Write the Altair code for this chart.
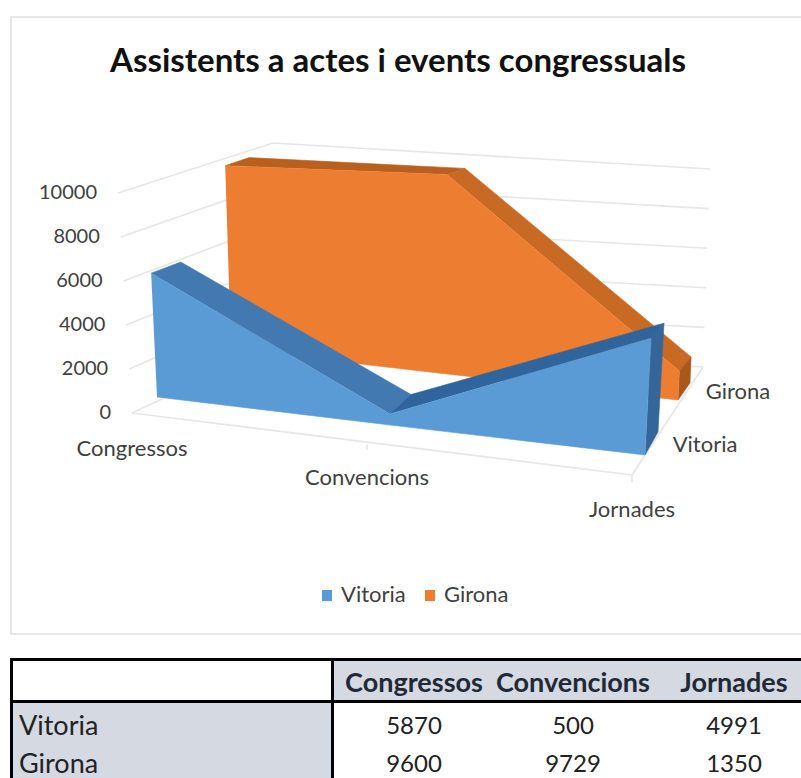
import altair as alt
import pandas as pd

TITLE = "Assistents a actes i events congressuals"
CATEGORIES = ["Congressos", "Convencions", "Jornades"]
VITORIA = [5870, 500, 4991]
GIRONA = [9600, 9729, 1350]
TICKS = [0, 2000, 4000, 6000, 8000, 10000]
FONT = "Lato"

# Perspective frame: for each category, the floor point of a face and the
# screen vector spanned by 10000 units.
FACES = {
    "vitoria_front": ([(157, 397), (390, 425), (645, 455)], [(-10, -211), (0, -222), (12, -234)]),
    "vitoria_back": ([(186, 380), (411, 405), (658, 432)], [(-9, -201), (0, -210), (12, -218)]),
    "girona_front": ([(231, 349), (447, 374), (678, 400)], [(-6, -191), (0, -205), (10, -215)]),
    "girona_back": ([(254, 340), (465, 362), (690, 383)], [(-5, -190), (0, -199), (8, -193)]),
}


def project(face, cat, value):
    base, unit = FACES[face]
    k = value / 10000
    return (base[cat][0] + unit[cat][0] * k, base[cat][1] + unit[cat][1] * k)


def wall_point(a0, a10, value):
    k = value / 10000
    return (a0[0] + (a10[0] - a0[0]) * k, a0[1] + (a10[1] - a0[1]) * k)


X = alt.X("x:Q", scale=alt.Scale(domain=[0, 801], range=[0, 801], nice=False, zero=False), axis=None)
Y = alt.Y("y:Q", scale=alt.Scale(domain=[0, 778], range=[0, 778], nice=False, zero=False), axis=None)


def polygon(points, color):
    df = pd.DataFrame({"x": [p[0] for p in points], "y": [p[1] for p in points], "i": range(len(points))})
    return alt.Chart(df).mark_line(fill=color, stroke=color, strokeWidth=0.6).encode(
        x=X, y=Y, order=alt.Order("i:Q")
    )


def segment(a, b, color="#e6e6e6", width=1.6):
    df = pd.DataFrame({"x": [a[0], b[0]], "y": [a[1], b[1]], "i": [0, 1]})
    return alt.Chart(df).mark_line(stroke=color, strokeWidth=width).encode(x=X, y=Y, order=alt.Order("i:Q"))


def box(x0, x1, y0, y1, color):
    df = pd.DataFrame({"x": [x0], "x2": [x1], "y": [y0], "y2": [y1]})
    return alt.Chart(df).mark_rect(color=color).encode(x=X, x2="x2:Q", y=Y, y2="y2:Q")


def label(text, x, y, size=22, align="center", weight="normal", color="#404040", font=FONT):
    df = pd.DataFrame({"x": [x], "y": [y], "t": [text]})
    return alt.Chart(df).mark_text(
        font=font, fontSize=size, align=align, baseline="middle", fontWeight=weight, color=color
    ).encode(x=X, y=Y, text="t:N")


def front_face(face, values):
    n = len(values)
    top = [project(face, c, values[c]) for c in range(n)]
    floor = [project(face, c, 0) for c in reversed(range(n))]
    return top + floor


def band(front, back, values, c0, c1):
    return [
        project(front, c0, values[c0]), project(back, c0, values[c0]),
        project(back, c1, values[c1]), project(front, c1, values[c1]),
    ]


def end_cap(front, back, values, c):
    return [
        project(front, c, values[c]), project(back, c, values[c]),
        project(back, c, 0), project(front, c, 0),
    ]


layers = []

# Chart frame
layers += [
    box(10, 801, 16, 18, "#e6e6e6"),
    box(10, 12, 16, 635, "#e6e6e6"),
    box(10, 801, 633, 635, "#e6e6e6"),
]

# Walls and floor
LEFT_FRONT = ((132, 413), (118, 193))
LEFT_BACK = ((277, 345), (273, 143))
RIGHT_BACK = ((703, 367), (710, 169))
for t in TICKS:
    a = wall_point(*LEFT_FRONT, t)
    b = wall_point(*LEFT_BACK, t)
    c = wall_point(*RIGHT_BACK, t)
    layers += [segment(a, b), segment(b, c)]
    layers.append(label(str(t), a[0] - 21, a[1], size=20, align="right"))
FLOOR_FRONT_RIGHT = (632, 475)
layers += [
    segment(LEFT_FRONT[0], FLOOR_FRONT_RIGHT),
    segment(FLOOR_FRONT_RIGHT, RIGHT_BACK[0]),
    segment(FLOOR_FRONT_RIGHT, (632, 482)),
    segment((367, 444), (367, 450)),
]

# Girona ribbon
layers += [
    polygon(band("girona_front", "girona_back", GIRONA, 0, 1), "#b9601f"),
    polygon(band("girona_front", "girona_back", GIRONA, 1, 2), "#c96a24"),
    polygon(end_cap("girona_front", "girona_back", GIRONA, 2), "#a9571c"),
    polygon(front_face("girona_front", GIRONA), "#ed7d31"),
]

# Vitoria ribbon
layers += [
    polygon(band("vitoria_front", "vitoria_back", VITORIA, 0, 1), "#4279b0"),
    polygon(band("vitoria_front", "vitoria_back", VITORIA, 1, 2), "#2f659c"),
    polygon(end_cap("vitoria_front", "vitoria_back", VITORIA, 2), "#35669a"),
    polygon(front_face("vitoria_front", VITORIA), "#5b9bd5"),
]

# Category and series labels
CAT_LABELS = [(132, 449), (367, 478), (632, 510)]
for name, (x, y) in zip(CATEGORIES, CAT_LABELS):
    layers.append(label(name, x, y))
layers += [label("Girona", 738, 392), label("Vitoria", 705, 445)]

layers.append(label(TITLE, 398, 62, size=33, weight="bold", color="#111111"))

# Legend
layers += [
    box(322, 332, 590, 601, "#5b9bd5"),
    label("Vitoria", 341, 595, align="left"),
    box(425, 435, 590, 601, "#ed7d31"),
    label("Girona", 444, 595, align="left"),
]

# Data table beneath the chart
HEAD_FILL = "#d5d9e2"
layers += [
    box(334, 801, 661, 700, HEAD_FILL),
    box(13, 331, 703, 778, HEAD_FILL),
    box(10, 801, 658, 661, "#000000"),
    box(10, 801, 700, 703, "#000000"),
    box(10, 13, 658, 778, "#000000"),
    box(331, 334, 658, 778, "#000000"),
]
COL_X = [414, 573, 734]
ROW_Y = [727, 765]
for name, x in zip(CATEGORIES, COL_X):
    layers.append(label(name, x, 684, size=27, weight="bold", color="#1f2a36"))
for row, (name, vals) in enumerate((("Vitoria", VITORIA), ("Girona", GIRONA))):
    layers.append(label(name, 19, ROW_Y[row], size=27, align="left", color="#222222"))
    for x, v in zip(COL_X, vals):
        layers.append(label(str(v), x, ROW_Y[row], size=24, color="#222222"))

chart = (
    alt.layer(*layers)
    .properties(width=801, height=778, padding=0, autosize=alt.AutoSizeParams(type="none"), background="#ffffff")
    .configure_view(stroke=None)
)
chart.save("out.html", embed_options={"renderer": "svg", "actions": False})
